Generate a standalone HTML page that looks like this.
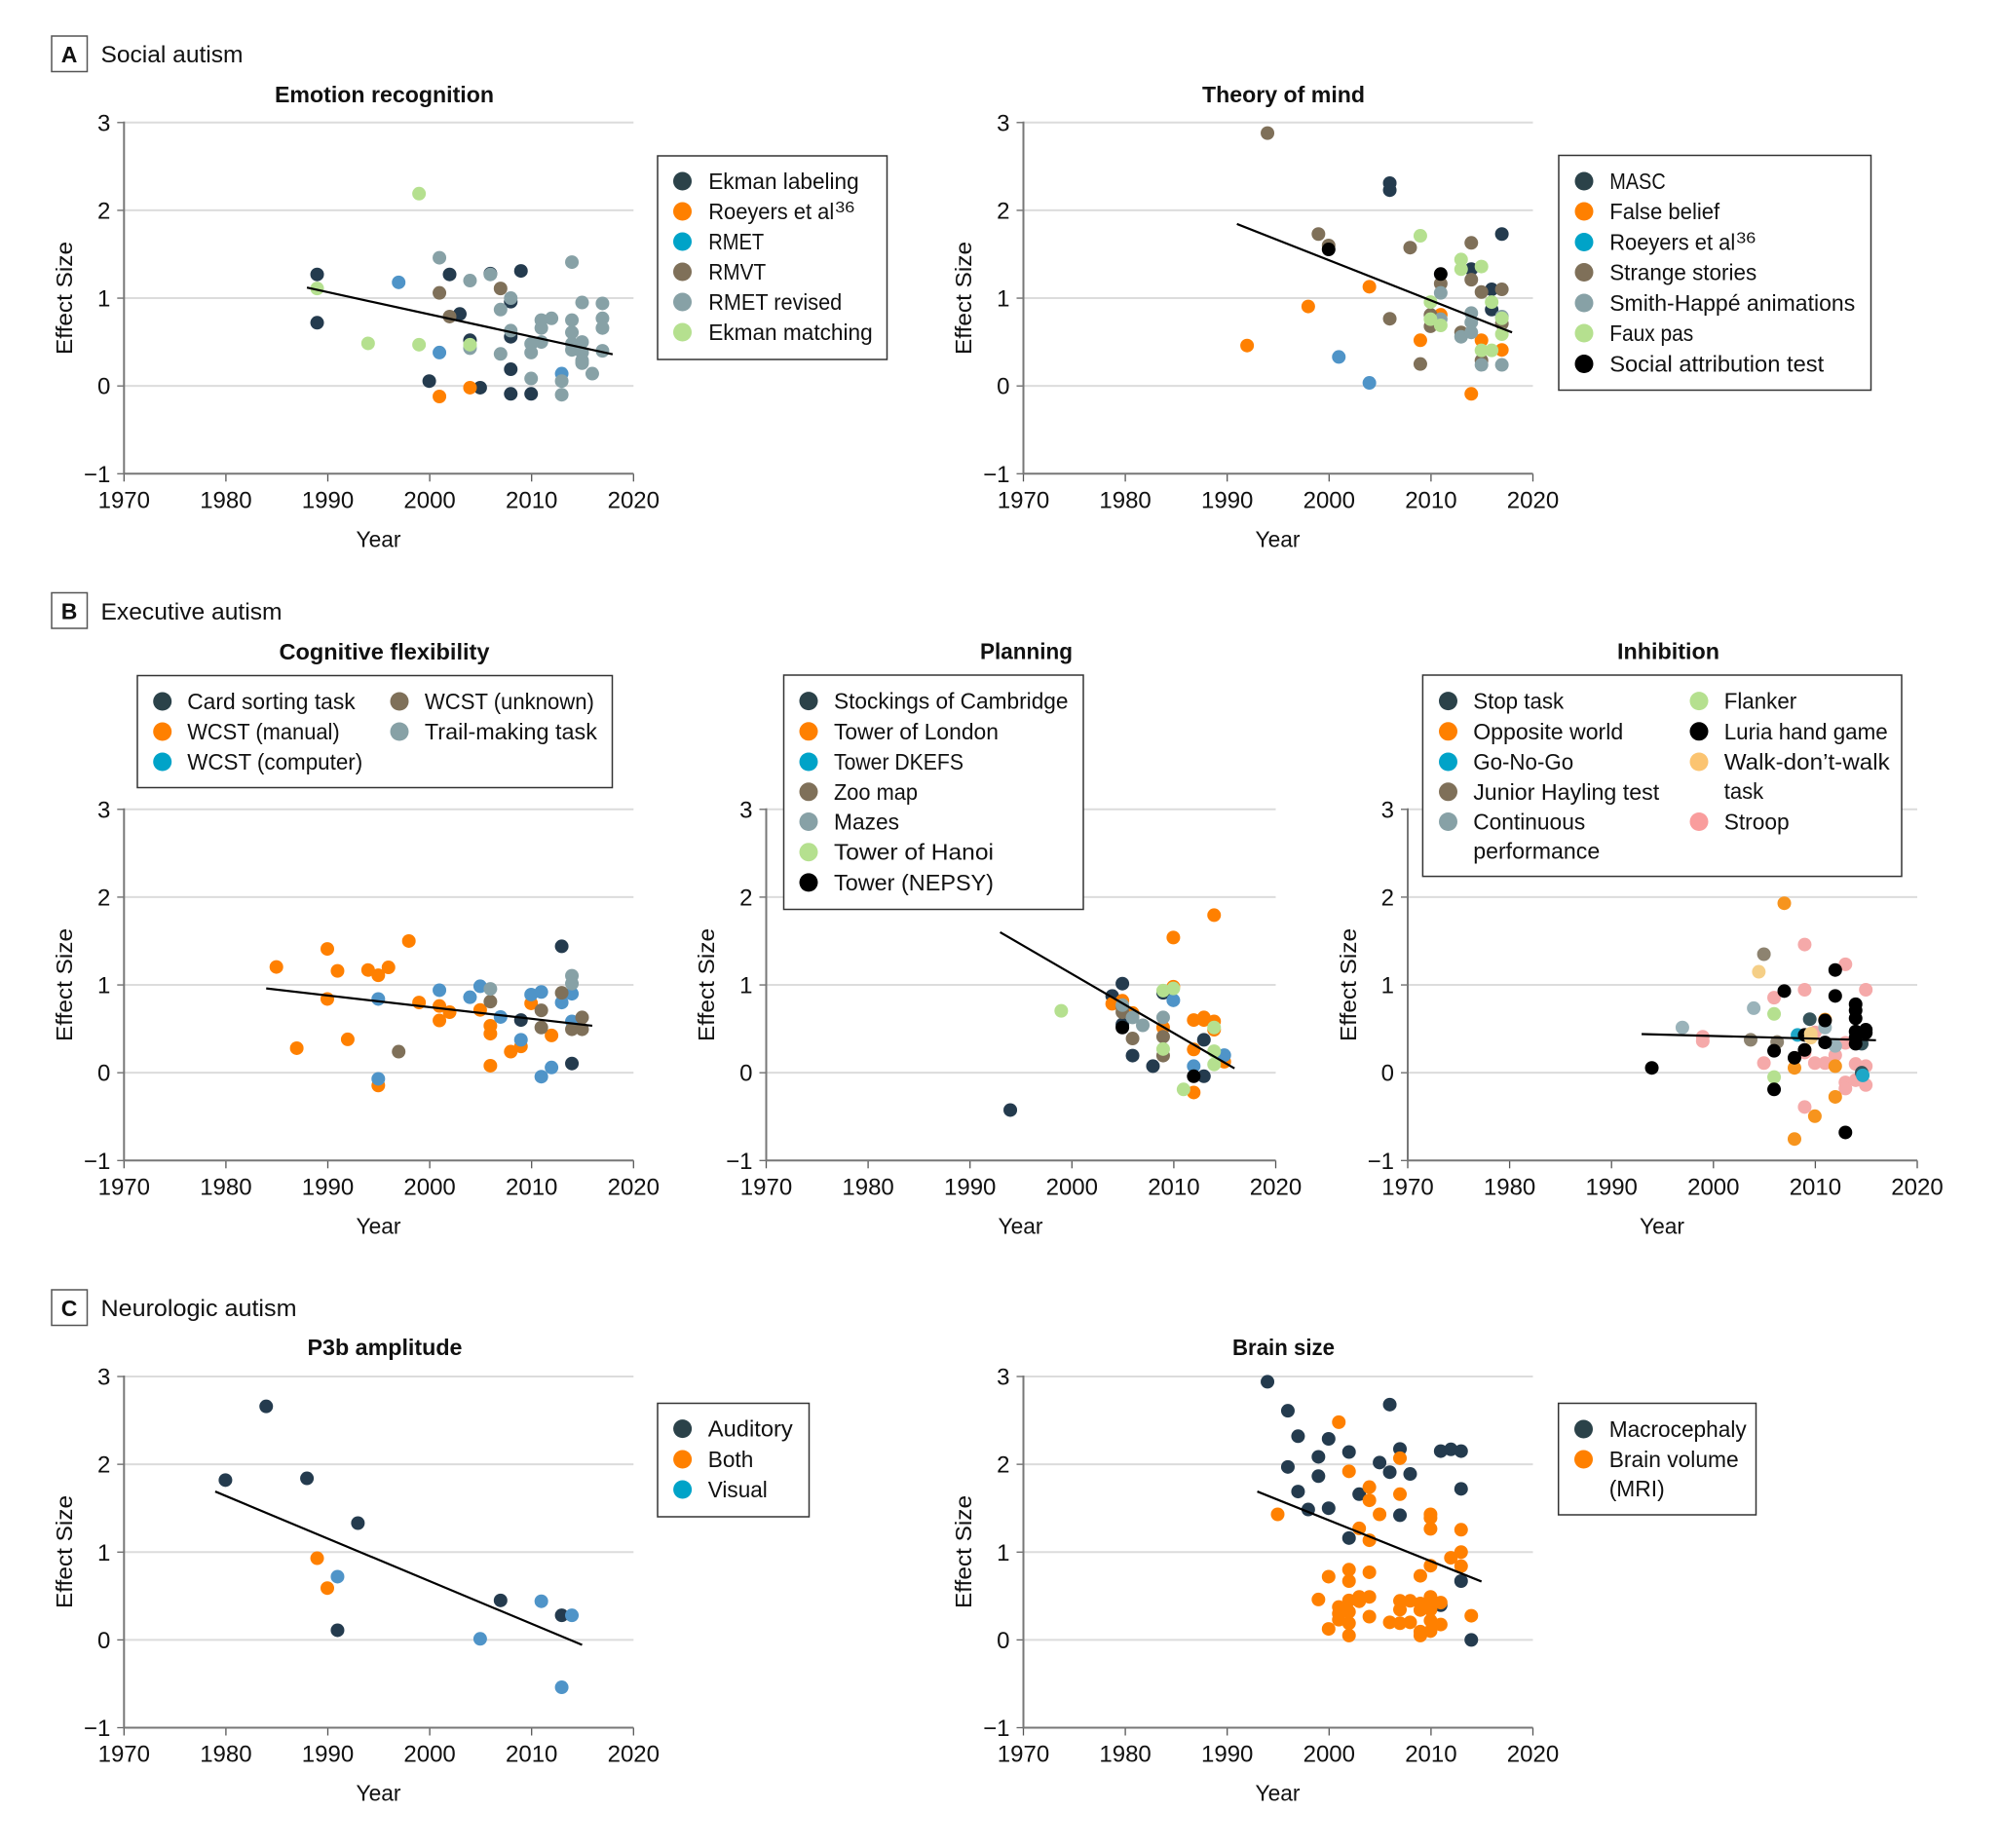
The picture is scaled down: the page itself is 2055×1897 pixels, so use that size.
<!DOCTYPE html>
<html lang="en">
<head>
<meta charset="utf-8">
<title>Effect size by year in autism research</title>
<style>
html,body{margin:0;padding:0;background:#fff;}
svg{display:block;font-family:"Liberation Sans",Arial,sans-serif;fill:#111;}
.leg{fill:#fff;stroke:#333;stroke-width:1.5;}
.lt{font-size:23px;transform:translate(-0.8px,0);}
.sup{font-size:16px;transform:translate(-0.8px,0);}
.ttl{font-size:23px;font-weight:bold;text-anchor:middle;transform:translate(-0.5px,-1px);}
.sec{font-size:24px;}
.secb{fill:#fff;stroke:#555;stroke-width:1.5;}
.secl{font-size:23px;font-weight:bold;text-anchor:middle;}
.yt{font-size:23px;text-anchor:middle;}
</style>
</head>
<body>
<svg id="figure" xmlns="http://www.w3.org/2000/svg" width="2055" height="1897" viewBox="0 0 2055 1897">
<rect width="2055" height="1897" fill="#fff"/>

<!-- Section headers -->
<g>
<rect class="secb" x="53" y="37" width="36.5" height="36.5"/>
<text class="secl" x="71" y="64">A</text>
<text class="sec" x="103.5" y="64" textLength="146" lengthAdjust="spacingAndGlyphs">Social autism</text>
</g>
<g>
<rect class="secb" x="53" y="608.5" width="36.5" height="36.5"/>
<text class="secl" x="71" y="635.5">B</text>
<text class="sec" x="103.5" y="636" textLength="186" lengthAdjust="spacingAndGlyphs">Executive autism</text>
</g>
<g>
<rect class="secb" x="53" y="1324" width="36.5" height="36.5"/>
<text class="secl" x="71" y="1351">C</text>
<text class="sec" x="103.5" y="1351" textLength="201" lengthAdjust="spacingAndGlyphs">Neurologic autism</text>
</g>

<!-- Chart titles -->
<text class="ttl" x="395" y="106" textLength="225" lengthAdjust="spacingAndGlyphs">Emotion recognition</text>
<text class="ttl" x="1318" y="106" textLength="167" lengthAdjust="spacingAndGlyphs">Theory of mind</text>
<text class="ttl" x="395" y="678" textLength="216" lengthAdjust="spacingAndGlyphs">Cognitive flexibility</text>
<text class="ttl" x="1054" y="677.5" textLength="95" lengthAdjust="spacingAndGlyphs">Planning</text>
<text class="ttl" x="1713" y="677.5" textLength="105" lengthAdjust="spacingAndGlyphs">Inhibition</text>
<text class="ttl" x="395.5" y="1392" textLength="159" lengthAdjust="spacingAndGlyphs">P3b amplitude</text>
<text class="ttl" x="1318" y="1392" textLength="105" lengthAdjust="spacingAndGlyphs">Brain size</text>

<!-- Chart layers, filled by script -->
<g id="chart-emotion"></g>
<g id="chart-theory"></g>
<g id="chart-flex"></g>
<g id="chart-planning"></g>
<g id="chart-inhibition"></g>
<g id="chart-p3b"></g>
<g id="chart-brain"></g>

<!-- Axis titles -->
<g><text class="yt" transform="translate(74,306) rotate(-90)" textLength="116" lengthAdjust="spacingAndGlyphs">Effect Size</text></g>
<g><text class="yt" transform="translate(997,306) rotate(-90)" textLength="116" lengthAdjust="spacingAndGlyphs">Effect Size</text></g>
<g><text class="yt" transform="translate(74,1011) rotate(-90)" textLength="116" lengthAdjust="spacingAndGlyphs">Effect Size</text></g>
<g><text class="yt" transform="translate(733,1011) rotate(-90)" textLength="116" lengthAdjust="spacingAndGlyphs">Effect Size</text></g>
<g><text class="yt" transform="translate(1392,1011) rotate(-90)" textLength="116" lengthAdjust="spacingAndGlyphs">Effect Size</text></g>
<g><text class="yt" transform="translate(74,1593) rotate(-90)" textLength="116" lengthAdjust="spacingAndGlyphs">Effect Size</text></g>
<g><text class="yt" transform="translate(997,1593) rotate(-90)" textLength="116" lengthAdjust="spacingAndGlyphs">Effect Size</text></g>

<text class="yt" x="388.5" y="561.5" textLength="46" lengthAdjust="spacingAndGlyphs">Year</text>
<text class="yt" x="1311.5" y="561.5" textLength="46" lengthAdjust="spacingAndGlyphs">Year</text>
<text class="yt" x="388.5" y="1266.5" textLength="46" lengthAdjust="spacingAndGlyphs">Year</text>
<text class="yt" x="1047.5" y="1266.5" textLength="46" lengthAdjust="spacingAndGlyphs">Year</text>
<text class="yt" x="1706" y="1266.5" textLength="46" lengthAdjust="spacingAndGlyphs">Year</text>
<text class="yt" x="388.5" y="1848.5" textLength="46" lengthAdjust="spacingAndGlyphs">Year</text>
<text class="yt" x="1311.5" y="1848.5" textLength="46" lengthAdjust="spacingAndGlyphs">Year</text>

<!-- Legend: Emotion recognition -->
<g>
<rect class="leg" x="675" y="160" width="235.5" height="209"/>
<g><circle cx="700.5" cy="186" r="9.5" fill="#2b4249"/><text class="lt" x="728" y="194" textLength="154.5" lengthAdjust="spacingAndGlyphs">Ekman labeling</text></g>
<g><circle cx="700.5" cy="217" r="9.5" fill="#ff8000"/><text class="lt" x="728" y="225" textLength="129" lengthAdjust="spacingAndGlyphs">Roeyers et al</text><text class="sup" x="858" y="218" textLength="20" lengthAdjust="spacingAndGlyphs">36</text></g>
<g><circle cx="700.5" cy="248" r="9.5" fill="#00a3c8"/><text class="lt" x="728" y="256" textLength="57" lengthAdjust="spacingAndGlyphs">RMET</text></g>
<g><circle cx="700.5" cy="279" r="9.5" fill="#7f7059"/><text class="lt" x="728" y="287" textLength="59" lengthAdjust="spacingAndGlyphs">RMVT</text></g>
<g><circle cx="700.5" cy="310" r="9.5" fill="#87a1a6"/><text class="lt" x="728" y="318" textLength="137" lengthAdjust="spacingAndGlyphs">RMET revised</text></g>
<g><circle cx="700.5" cy="341" r="9.5" fill="#b5e08f"/><text class="lt" x="728" y="349" textLength="168.5" lengthAdjust="spacingAndGlyphs">Ekman matching</text></g>
</g>

<!-- Legend: Theory of mind -->
<g>
<rect class="leg" x="1600" y="159.5" width="320.5" height="241"/>
<g><circle cx="1626" cy="186" r="9.5" fill="#2b4249"/><text class="lt" x="1653" y="194" textLength="57.5" lengthAdjust="spacingAndGlyphs">MASC</text></g>
<g><circle cx="1626" cy="217" r="9.5" fill="#ff8000"/><text class="lt" x="1653" y="225" textLength="113" lengthAdjust="spacingAndGlyphs">False belief</text></g>
<g><circle cx="1626" cy="248.5" r="9.5" fill="#00a3c8"/><text class="lt" x="1653" y="256.5" textLength="129" lengthAdjust="spacingAndGlyphs">Roeyers et al</text><text class="sup" x="1783" y="249.5" textLength="20" lengthAdjust="spacingAndGlyphs">36</text></g>
<g><circle cx="1626" cy="279.5" r="9.5" fill="#7f7059"/><text class="lt" x="1653" y="287.5" textLength="151" lengthAdjust="spacingAndGlyphs">Strange stories</text></g>
<g><circle cx="1626" cy="311" r="9.5" fill="#87a1a6"/><text class="lt" x="1653" y="319" textLength="252" lengthAdjust="spacingAndGlyphs">Smith-Happé animations</text></g>
<g><circle cx="1626" cy="342" r="9.5" fill="#b5e08f"/><text class="lt" x="1653" y="350" textLength="86" lengthAdjust="spacingAndGlyphs">Faux pas</text></g>
<g><circle cx="1626" cy="373.5" r="9.5" fill="#000"/><text class="lt" x="1653" y="381.5" textLength="220" lengthAdjust="spacingAndGlyphs">Social attribution test</text></g>
</g>

<!-- Legend: Cognitive flexibility -->
<g>
<rect class="leg" x="141" y="693.5" width="487.5" height="115"/>
<g><circle cx="166.7" cy="720" r="9.5" fill="#2b4249"/><text class="lt" x="193" y="728" textLength="172.5" lengthAdjust="spacingAndGlyphs">Card sorting task</text></g>
<g><circle cx="166.7" cy="751" r="9.5" fill="#ff8000"/><text class="lt" x="193" y="759" textLength="156.5" lengthAdjust="spacingAndGlyphs">WCST (manual)</text></g>
<g><circle cx="166.7" cy="782" r="9.5" fill="#00a3c8"/><text class="lt" x="193" y="790" textLength="180" lengthAdjust="spacingAndGlyphs">WCST (computer)</text></g>
<g><circle cx="410" cy="720" r="9.5" fill="#7f7059"/><text class="lt" x="436.7" y="728" textLength="174" lengthAdjust="spacingAndGlyphs">WCST (unknown)</text></g>
<g><circle cx="410" cy="751" r="9.5" fill="#87a1a6"/><text class="lt" x="436.7" y="759" textLength="177" lengthAdjust="spacingAndGlyphs">Trail-making task</text></g>
</g>

<!-- Legend: Planning -->
<g>
<rect class="leg" x="804.5" y="693" width="307.5" height="240.5"/>
<g><circle cx="830" cy="719.6" r="9.5" fill="#2b4249"/><text class="lt" x="856.8" y="727.6" textLength="240.5" lengthAdjust="spacingAndGlyphs">Stockings of Cambridge</text></g>
<g><circle cx="830" cy="750.8" r="9.5" fill="#ff8000"/><text class="lt" x="856.8" y="758.8" textLength="169" lengthAdjust="spacingAndGlyphs">Tower of London</text></g>
<g><circle cx="830" cy="782" r="9.5" fill="#00a3c8"/><text class="lt" x="856.8" y="790" textLength="133" lengthAdjust="spacingAndGlyphs">Tower DKEFS</text></g>
<g><circle cx="830" cy="812.8" r="9.5" fill="#7f7059"/><text class="lt" x="856.8" y="820.8" textLength="86" lengthAdjust="spacingAndGlyphs">Zoo map</text></g>
<g><circle cx="830" cy="843.5" r="9.5" fill="#87a1a6"/><text class="lt" x="856.8" y="851.5" textLength="67" lengthAdjust="spacingAndGlyphs">Mazes</text></g>
<g><circle cx="830" cy="874.7" r="9.5" fill="#b5e08f"/><text class="lt" x="856.8" y="882.7" textLength="164" lengthAdjust="spacingAndGlyphs">Tower of Hanoi</text></g>
<g><circle cx="830" cy="905.9" r="9.5" fill="#000"/><text class="lt" x="856.8" y="913.9" textLength="164" lengthAdjust="spacingAndGlyphs">Tower (NEPSY)</text></g>
</g>

<!-- Legend: Inhibition -->
<g>
<rect class="leg" x="1460.4" y="693" width="491.6" height="206.6"/>
<g><circle cx="1486.5" cy="719.6" r="9.5" fill="#2b4249"/><text class="lt" x="1513" y="727.6" textLength="93" lengthAdjust="spacingAndGlyphs">Stop task</text></g>
<g><circle cx="1486.5" cy="750.8" r="9.5" fill="#ff8000"/><text class="lt" x="1513" y="758.8" textLength="154" lengthAdjust="spacingAndGlyphs">Opposite world</text></g>
<g><circle cx="1486.5" cy="782" r="9.5" fill="#00a3c8"/><text class="lt" x="1513" y="790" textLength="103" lengthAdjust="spacingAndGlyphs">Go-No-Go</text></g>
<g><circle cx="1486.5" cy="812.8" r="9.5" fill="#7f7059"/><text class="lt" x="1513" y="820.8" textLength="191" lengthAdjust="spacingAndGlyphs">Junior Hayling test</text></g>
<g><circle cx="1486.5" cy="843.5" r="9.5" fill="#87a1a6"/><text class="lt" x="1513" y="851.5" textLength="115" lengthAdjust="spacingAndGlyphs">Continuous</text><text class="lt" x="1513" y="881.5" textLength="130" lengthAdjust="spacingAndGlyphs">performance</text></g>
<g><circle cx="1744" cy="719.6" r="9.5" fill="#b5e08f"/><text class="lt" x="1770.5" y="727.6" textLength="74.5" lengthAdjust="spacingAndGlyphs">Flanker</text></g>
<g><circle cx="1744" cy="750.8" r="9.5" fill="#000"/><text class="lt" x="1770.5" y="758.8" textLength="168" lengthAdjust="spacingAndGlyphs">Luria hand game</text></g>
<g><circle cx="1744" cy="782" r="9.5" fill="#fbc471"/><text class="lt" x="1770.5" y="790" textLength="170" lengthAdjust="spacingAndGlyphs">Walk-don’t-walk</text><text class="lt" x="1770.5" y="820" textLength="40.5" lengthAdjust="spacingAndGlyphs">task</text></g>
<g><circle cx="1744" cy="843.5" r="9.5" fill="#f99d9d"/><text class="lt" x="1770.5" y="851.5" textLength="67" lengthAdjust="spacingAndGlyphs">Stroop</text></g>
</g>

<!-- Legend: P3b -->
<g>
<rect class="leg" x="675" y="1440.5" width="155.5" height="116.5"/>
<g><circle cx="700.6" cy="1466.6" r="9.5" fill="#2b4249"/><text class="lt" x="727.6" y="1474.6" textLength="87" lengthAdjust="spacingAndGlyphs">Auditory</text></g>
<g><circle cx="700.6" cy="1498" r="9.5" fill="#ff8000"/><text class="lt" x="727.6" y="1506" textLength="46.5" lengthAdjust="spacingAndGlyphs">Both</text></g>
<g><circle cx="700.6" cy="1529" r="9.5" fill="#00a3c8"/><text class="lt" x="727.6" y="1537" textLength="61" lengthAdjust="spacingAndGlyphs">Visual</text></g>
</g>

<!-- Legend: Brain size -->
<g>
<rect class="leg" x="1599.7" y="1440.5" width="202.8" height="114.5"/>
<g><circle cx="1625.5" cy="1467" r="9.5" fill="#2b4249"/><text class="lt" x="1652.5" y="1475" textLength="141" lengthAdjust="spacingAndGlyphs">Macrocephaly</text></g>
<g><circle cx="1625.5" cy="1498" r="9.5" fill="#ff8000"/><text class="lt" x="1652.5" y="1506" textLength="133" lengthAdjust="spacingAndGlyphs">Brain volume</text><text class="lt" x="1652.5" y="1536" textLength="57" lengthAdjust="spacingAndGlyphs">(MRI)</text></g>
</g>
</svg>

<script>
// Shared axis ticks
const xTicks = [1970, 1980, 1990, 2000, 2010, 2020];
const yTicks = [-1, 0, 1, 2, 3];

// Emotion recognition
const emotionEkmanLabeling = [[1989,1.27],[1989,0.72],[2002,1.27],[2003,0.82],[2004,0.52],[2005,-0.02],[2000,0.055],[2006,1.28],[2008,0.96],[2009,1.31],[2008,0.19],[2008,-0.09],[2010,-0.09],[2008,0.56]];
const emotionRoeyers = [[2001,-0.12],[2004,-0.02]];
const emotionRmet = [[1997,1.18],[2001,0.38],[2013,0.14]];
const emotionRmvt = [[2001,1.06],[2007,1.11],[2002,0.79]];
const emotionRmetRevised = [[2001,1.46],[2004,1.2],[2006,1.27],[2008,1.0],[2007,0.87],[2008,0.63],[2004,0.43],[2007,0.365],[2010,0.48],[2010,0.38],[2011,0.5],[2011,0.66],[2011,0.75],[2012,0.77],[2014,1.41],[2014,0.75],[2014,0.61],[2014,0.48],[2014,0.41],[2015,0.95],[2015,0.5],[2015,0.38],[2015,0.29],[2015,0.26],[2016,0.14],[2017,0.94],[2017,0.77],[2017,0.66],[2017,0.4],[2010,0.085],[2013,0.055],[2013,-0.1]];
const emotionEkmanMatching = [[1999,2.19],[1989,1.11],[1994,0.485],[1999,0.47],[2004,0.47]];
const emotionTrend = [[1988,1.12],[2018,0.36]];

// Theory of mind
const theoryMasc = [[2006,2.31],[2006,2.23],[2014,1.33],[2016,1.10],[2016,0.87],[2017,1.73]];
const theoryFalseBelief = [[1992,0.46],[1998,0.905],[2004,1.13],[2009,0.52],[2011,0.81],[2015,0.52],[2017,0.41],[2014,-0.09]];
const theoryRoeyers = [[2001,0.33],[2004,0.035]];
const theoryStrangeStories = [[1994,2.88],[1999,1.73],[2000,1.6],[2008,1.575],[2006,0.765],[2009,0.25],[2010,0.81],[2010,0.68],[2011,1.165],[2013,0.61],[2014,1.63],[2014,1.21],[2015,1.07],[2015,0.29],[2017,1.10],[2017,0.71]];
const theorySmithHappe = [[2011,1.06],[2011,0.76],[2013,0.56],[2014,0.83],[2014,0.725],[2014,0.61],[2015,0.24],[2017,0.24],[2017,0.79]];
const theoryFauxPas = [[2009,1.71],[2010,0.955],[2010,0.76],[2011,0.69],[2013,1.44],[2013,1.33],[2015,1.36],[2016,0.955],[2015,0.405],[2016,0.405],[2017,0.77],[2017,0.59]];
const theorySocialAttribution = [[2000,1.555],[2011,1.275]];
const theoryTrend = [[1991,1.845],[2018,0.61]];

// Cognitive flexibility
const flexCardSorting = [[2013,1.44],[2009,0.6],[2014,0.105]];
const flexManual = [[1985,1.205],[1987,0.28],[1990,1.41],[1990,0.84],[1991,1.16],[1992,0.38],[1994,1.17],[1995,1.11],[1995,-0.145],[1996,1.2],[1998,1.5],[1999,0.8],[2001,0.76],[2001,0.595],[2002,0.69],[2005,0.715],[2006,0.535],[2006,0.445],[2006,0.08],[2008,0.24],[2009,0.3],[2010,0.79],[2012,0.425]];
const flexComputer = [[1995,0.84],[1995,-0.07],[2001,0.94],[2004,0.86],[2005,0.985],[2007,0.635],[2009,0.375],[2010,0.89],[2011,0.92],[2011,-0.045],[2012,0.06],[2013,0.8],[2014,0.9],[2014,0.585]];
const flexUnknown = [[1997,0.24],[2006,0.81],[2011,0.71],[2011,0.515],[2013,0.91],[2014,0.495],[2015,0.495],[2015,0.63]];
const flexTrail = [[2006,0.955],[2014,1.105],[2014,1.015]];
const flexTrend = [[1984,0.96],[2016,0.535]];

// Planning
const planStockings = [[1994,-0.425],[2004,0.875],[2005,1.015],[2005,0.55],[2006,0.195],[2008,0.075],[2009,0.91],[2013,0.375],[2013,-0.04]];
const planLondon = [[2004,0.785],[2005,0.82],[2006,0.68],[2009,0.515],[2010,1.54],[2010,0.98],[2012,0.6],[2012,0.265],[2012,-0.225],[2013,0.63],[2013,0.6],[2014,1.795],[2014,0.585],[2014,0.49],[2015,0.125]];
const planDkefs = [[2010,0.825],[2012,0.075],[2015,0.2]];
const planZoo = [[2005,0.75],[2005,0.69],[2006,0.39],[2009,0.41],[2009,0.195]];
const planMazes = [[2005,0.77],[2006,0.63],[2007,0.54],[2009,0.63]];
const planHanoi = [[1999,0.705],[2009,0.935],[2010,0.96],[2011,-0.19],[2009,0.27],[2014,0.515],[2014,0.245],[2014,0.095]];
const planNepsy = [[2005,0.515],[2012,-0.04]];
const planTrend = [[1993,1.6],[2016,0.05]];

// Inhibition
const inhibStroop = [[1999,0.41],[1999,0.36],[2005,0.11],[2006,0.855],[2009,1.46],[2009,0.945],[2009,-0.39],[2009,0.23],[2010,0.46],[2010,0.11],[2011,0.11],[2012,0.2],[2013,1.235],[2013,0.34],[2013,-0.11],[2013,-0.18],[2014,0.1],[2014,-0.085],[2015,0.945],[2015,0.075],[2015,-0.14]];
const inhibStop = [[2009.5,0.61],[2014.6,0.33],[2014.6,0]];
const inhibOpposite = [[2007,1.93],[2011,0.605],[2008,0.055],[2012,0.075],[2012,-0.275],[2010,-0.495],[2008,-0.755]];
const inhibGoNoGo = [[2008.3,0.43],[2014.7,-0.03]];
const inhibHayling = [[2005,1.35],[2003.7,0.375],[2006.3,0.35]];
const inhibContinuous = [[1997,0.515],[2004,0.735],[2011,0.515],[2012,0.305]];
const inhibFlanker = [[2006,0.67],[2006,-0.05]];
const inhibLuria = [[1994,0.055],[2007,0.93],[2006,0.25],[2006,-0.19],[2008,0.17],[2009,0.43],[2009,0.26],[2011,0.595],[2011,0.345],[2012,1.17],[2012,0.875],[2013,-0.68],[2014,0.78],[2014,0.71],[2014,0.62],[2014,0.47],[2014,0.4],[2014,0.33],[2015,0.49],[2015,0.455]];
const inhibWalk = [[2004.5,1.15],[2009.6,0.445],[2009.6,0.4]];
const inhibTrend = [[1993,0.44],[2016,0.37]];

// P3b amplitude
const p3bAuditory = [[1980,1.82],[1984,2.66],[1988,1.84],[1993,1.33],[1991,0.11],[2007,0.45],[2013,0.28]];
const p3bBoth = [[1989,0.93],[1990,0.59]];
const p3bVisual = [[1991,0.72],[2005,0.012],[2011,0.44],[2014,0.28],[2013,-0.54]];
const p3bTrend = [[1979,1.69],[2015,-0.057]];

// Brain size
const brainMacro = [[1994,2.94],[1996,2.61],[1997,2.32],[2000,2.29],[1999,2.085],[2002,2.14],[1996,1.97],[1999,1.865],[1997,1.69],[1998,1.485],[2000,1.5],[2003,1.66],[2002,1.16],[2005,2.02],[2006,2.68],[2006,1.91],[2007,2.175],[2007,1.42],[2008,1.89],[2011,2.15],[2012,2.17],[2013,2.15],[2013,1.72],[2013,0.67],[2014,0],[2011,0.395]];
const brainVolume = [[1995,1.43],[2001,2.48],[2002,1.92],[2007,2.07],[2004,1.74],[2004,1.59],[2007,1.66],[2005,1.43],[2003,1.27],[2004,1.135],[2010,1.43],[2010,1.39],[2010,1.265],[2013,1.255],[2013,1.0],[2012,0.935],[2013,0.84],[2010,0.845],[2009,0.73],[2000,0.72],[2002,0.8],[2002,0.67],[2004,0.77],[1999,0.46],[2002,0.45],[2003,0.49],[2003,0.44],[2004,0.49],[2001,0.375],[2001,0.3],[2001,0.23],[2002,0.32],[2002,0.19],[2002,0.05],[2000,0.125],[2004,0.265],[2006,0.2],[2007,0.19],[2008,0.2],[2007,0.445],[2007,0.345],[2008,0.445],[2009,0.415],[2009,0.34],[2009,0.095],[2009,0.05],[2010,0.49],[2010,0.415],[2010,0.345],[2010,0.22],[2010,0.1],[2011,0.425],[2011,0.175],[2014,0.275]];
const brainTrend = [[1993,1.69],[2015,0.665]];

const DARK = '#243b4e', ORANGE = '#ff8000', BLUE = '#4f94c8', BROWN = '#7f7059', GRAY = '#87a1a6', GREEN = '#b5e08f', BLACK = '#000';
const SVGNS = 'http://www.w3.org/2000/svg';
const PLOT_W = 523, PLOT_H = 360.5, X_MIN = 1970, X_MAX = 2020, Y_MIN = -1, Y_MAX = 3;

function make(tag, attrs, parent) {
  const el = document.createElementNS(SVGNS, tag);
  for (const k in attrs) el.setAttribute(k, attrs[k]);
  parent.appendChild(el);
  return el;
}

function drawChart(groupId, left, top, series, trend) {
  const g = document.getElementById(groupId);
  const sx = function (year) { return left + (year - X_MIN) / (X_MAX - X_MIN) * PLOT_W; };
  const sy = function (v) { return top + (Y_MAX - v) / (Y_MAX - Y_MIN) * PLOT_H; };

  yTicks.forEach(function (t) {
    if (t !== Y_MIN) {
      const grid = make('line', {x1: sx(X_MIN), x2: sx(X_MAX), y1: sy(t), y2: sy(t), stroke: '#dcdcdc', 'stroke-width': 2}, g);
      
      
    }
    const tick = make('line', {x1: sx(X_MIN) - 7, x2: sx(X_MIN), y1: sy(t), y2: sy(t), stroke: '#666', 'stroke-width': 1.3}, g);
    
    
    const label = make('text', {x: sx(X_MIN) - 14, y: sy(t) + 8.5, 'text-anchor': 'end', 'font-size': 24}, g);
    label.textContent = t < 0 ? '\u2212' + Math.abs(t) : String(t);
    
    
  });

  xTicks.forEach(function (t) {
    const tick = make('line', {x1: sx(t), x2: sx(t), y1: sy(Y_MIN), y2: sy(Y_MIN) + 8, stroke: '#555', 'stroke-width': 1.3}, g);
    
    
    const label = make('text', {x: sx(t), y: sy(Y_MIN) + 35, 'text-anchor': 'middle', 'font-size': 24}, g);
    label.textContent = String(t);
    
    
  });

  const yAxis = make('line', {x1: sx(X_MIN), x2: sx(X_MIN), y1: sy(Y_MAX) - 1, y2: sy(Y_MIN) + 1, stroke: '#777', 'stroke-width': 2}, g);
  
  
  const xAxis = make('line', {x1: sx(X_MIN), x2: sx(X_MAX), y1: sy(Y_MIN), y2: sy(Y_MIN), stroke: '#777', 'stroke-width': 2}, g);
  
  

  series.forEach(function (s) {
    s.points.forEach(function (p) {
      const dot = make('circle', {cx: sx(p[0]) - 0.5, cy: sy(p[1]), r: 7, fill: s.color}, g);
      
      
    });
  });

  const line = make('line', {x1: sx(trend[0][0]) - 0.5, y1: sy(trend[0][1]), x2: sx(trend[1][0]) - 0.5, y2: sy(trend[1][1]), stroke: '#000', 'stroke-width': 2.2}, g);
  
  
}

drawChart('chart-emotion', 127.3, 125.8, [
  {name: 'ekman-labeling', color: DARK, points: emotionEkmanLabeling},
  {name: 'roeyers', color: ORANGE, points: emotionRoeyers},
  {name: 'rmet', color: BLUE, points: emotionRmet},
  {name: 'rmvt', color: BROWN, points: emotionRmvt},
  {name: 'rmet-revised', color: GRAY, points: emotionRmetRevised},
  {name: 'ekman-matching', color: GREEN, points: emotionEkmanMatching}
], emotionTrend);

drawChart('chart-theory', 1050.5, 125.8, [
  {name: 'masc', color: DARK, points: theoryMasc},
  {name: 'false-belief', color: ORANGE, points: theoryFalseBelief},
  {name: 'roeyers', color: BLUE, points: theoryRoeyers},
  {name: 'strange-stories', color: BROWN, points: theoryStrangeStories},
  {name: 'smith-happe', color: GRAY, points: theorySmithHappe},
  {name: 'faux-pas', color: GREEN, points: theoryFauxPas},
  {name: 'social-attribution', color: BLACK, points: theorySocialAttribution}
], theoryTrend);

drawChart('chart-flex', 127.3, 830.8, [
  {name: 'wcst-manual', color: ORANGE, points: flexManual},
  {name: 'wcst-computer', color: BLUE, points: flexComputer},
  {name: 'card-sorting', color: DARK, points: flexCardSorting},
  {name: 'wcst-unknown', color: BROWN, points: flexUnknown},
  {name: 'trail-making', color: GRAY, points: flexTrail}
], flexTrend);

drawChart('chart-planning', 786.5, 830.8, [
  {name: 'stockings', color: DARK, points: planStockings},
  {name: 'tower-of-london', color: ORANGE, points: planLondon},
  {name: 'tower-dkefs', color: BLUE, points: planDkefs},
  {name: 'zoo-map', color: BROWN, points: planZoo},
  {name: 'mazes', color: GRAY, points: planMazes},
  {name: 'tower-of-hanoi', color: GREEN, points: planHanoi},
  {name: 'tower-nepsy', color: BLACK, points: planNepsy}
], planTrend);

drawChart('chart-inhibition', 1445, 830.8, [
  {name: 'stroop', color: '#f5a9a9', points: inhibStroop},
  {name: 'stop-task', color: '#35535a', points: inhibStop},
  {name: 'opposite-world', color: '#f7941d', points: inhibOpposite},
  {name: 'go-no-go', color: '#1ea7c7', points: inhibGoNoGo},
  {name: 'junior-hayling', color: '#8d8370', points: inhibHayling},
  {name: 'continuous-performance', color: '#9ab3ba', points: inhibContinuous},
  {name: 'flanker', color: GREEN, points: inhibFlanker},
  {name: 'luria', color: BLACK, points: inhibLuria},
  {name: 'walk-dont-walk', color: '#f5cf87', points: inhibWalk}
], inhibTrend);

drawChart('chart-p3b', 127.3, 1413, [
  {name: 'auditory', color: DARK, points: p3bAuditory},
  {name: 'both', color: ORANGE, points: p3bBoth},
  {name: 'visual', color: BLUE, points: p3bVisual}
], p3bTrend);

drawChart('chart-brain', 1050.5, 1413, [
  {name: 'macrocephaly', color: DARK, points: brainMacro},
  {name: 'brain-volume', color: ORANGE, points: brainVolume}
], brainTrend);
</script>
</body>
</html>
